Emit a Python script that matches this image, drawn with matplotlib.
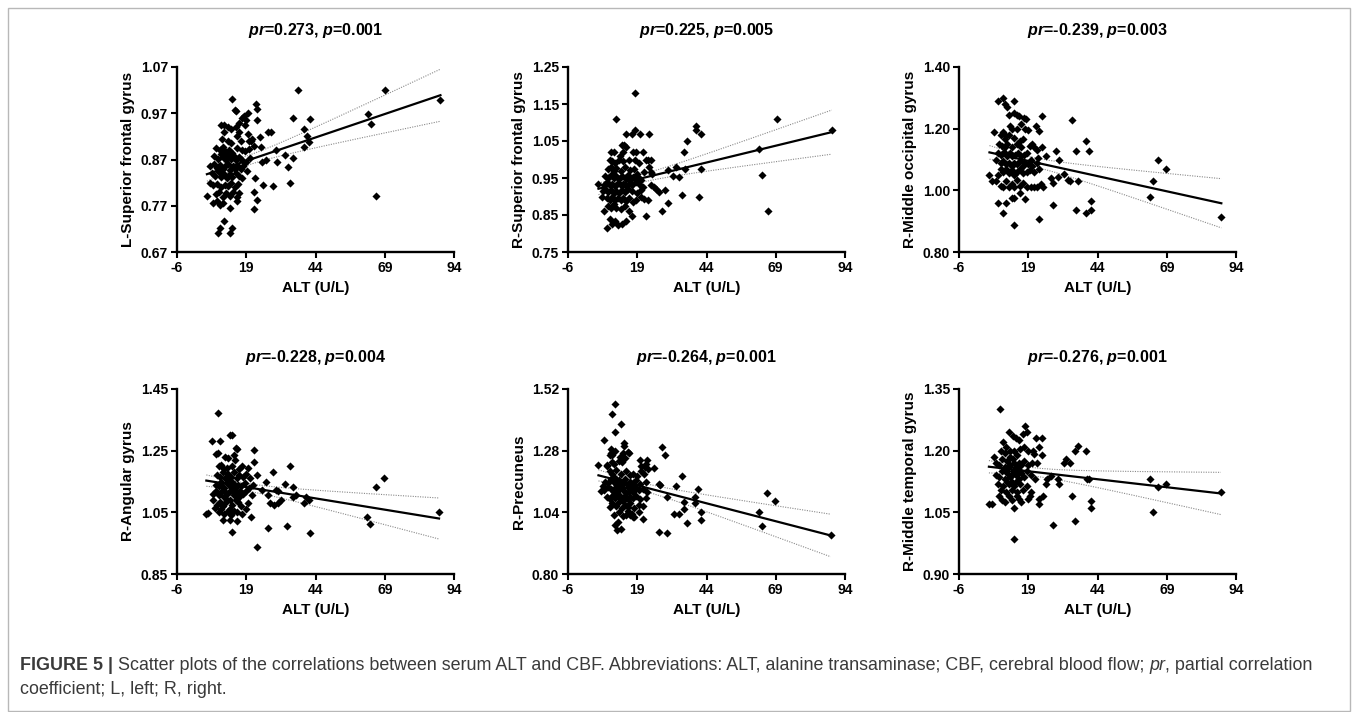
import numpy as np
import matplotlib
matplotlib.use('Agg')
import matplotlib.pyplot as plt
from matplotlib.patches import Rectangle

plt.rcParams['font.family'] = ['Liberation Sans', 'DejaVu Sans']
plt.rcParams['mathtext.fontset'] = 'custom'
plt.rcParams['mathtext.rm'] = 'Liberation Sans:bold'
plt.rcParams['mathtext.bfit'] = 'Liberation Sans:italic:bold'
plt.rcParams['mathtext.it'] = 'Liberation Sans:italic'

# ---------------- data (ALT, CBF) ----------------
lsfg_points = [
    (22.6,0.989),(22.9,0.980),(22.9,0.956),(24.1,0.919),(24.2,0.897),(21.9,0.900),(20.8,0.910),
    (22.2,0.831),(21.9,0.800),(22.9,0.783),(21.7,0.762),(24.6,0.864),(26.3,0.870),(25.0,0.814),
    (27.0,0.930),(28.0,0.930),(28.7,0.813),(29.9,0.890),(30.1,0.865),(33.0,0.880),(34.0,0.853),
    (34.9,0.819),(35.9,0.874),(35.9,0.960),(37.6,1.020),(40.0,0.937),(41.0,0.921),(41.7,0.908),
    (41.9,0.958),(40.0,0.896),(63.1,0.969),(64.0,0.947),(66.0,0.792),(69.1,1.020),(89.1,0.999),
    (14.0,1.000),(14.8,0.978),(15.3,0.975),(19.6,0.970),(18.3,0.965),(17.5,0.960),
    (19.0,0.955),(16.4,0.950),(18.5,0.945),
    (10.0,0.944),(10.8,0.945),(12.5,0.940),(13.6,0.935),(15.3,0.940),(11.0,0.930),(16.3,0.930),(19.5,0.925),
    (10.2,0.915),(12.5,0.910),(13.5,0.905),(15.5,0.920),(17.0,0.910),(19.9,0.910),(20.9,0.915),
    (8.0,0.895),(9.5,0.890),(10.5,0.898),(11.5,0.888),(12.7,0.890),(14.0,0.885),(15.8,0.895),
    (17.3,0.890),(18.5,0.888),(20.0,0.893),
    (7.5,0.878),(8.8,0.872),(9.8,0.882),(10.6,0.875),(11.8,0.870),(12.5,0.880),(13.4,0.872),
    (14.5,0.878),(15.3,0.868),(16.3,0.875),(17.5,0.870),(18.8,0.865),(20.3,0.873),
    (6.0,0.855),(7.2,0.860),(8.5,0.852),(9.5,0.858),(10.5,0.850),(11.5,0.856),(12.5,0.860),
    (13.3,0.848),(14.2,0.855),(15.0,0.850),(16.0,0.857),(17.0,0.850),(18.0,0.855),(19.3,0.845),
    (6.5,0.840),(7.8,0.835),(9.0,0.842),(10.0,0.832),(11.0,0.838),(12.0,0.830),(13.0,0.838),
    (14.0,0.832),(15.2,0.840),(16.5,0.835),(17.5,0.830),
    (6.0,0.820),(7.0,0.815),(8.5,0.818),(9.8,0.810),(11.2,0.815),(12.5,0.812),(13.6,0.820),
    (14.8,0.810),(16.0,0.818),
    (4.8,0.792),(8.0,0.795),(9.2,0.800),(10.5,0.790),(11.8,0.797),(13.0,0.792),(14.3,0.800),
    (15.7,0.790),(16.5,0.797),
    (7.0,0.775),(8.5,0.780),(9.5,0.772),(10.5,0.775),(13.0,0.765),(15.5,0.780),
    (10.8,0.738),(9.6,0.722),(8.9,0.712),(13.0,0.712),(14.0,0.722),
]

rsfg_points = [
    (18.1,1.180),(11.2,1.110),(69.3,1.110),(89.2,1.079),(63.0,1.029),(64.1,0.959),(66.1,0.860),
    (40.1,1.090),(40.1,1.080),(42.1,1.070),(37.1,1.050),(36.0,1.019),(42.1,0.973),(41.2,0.900),
    (35.2,0.905),(36.3,0.973),(33.0,0.980),(34.0,0.953),(32.0,0.955),(30.0,0.972),(28.9,0.918),
    (30.1,0.882),(28.0,0.862),(27.0,0.912),(23.9,0.932),(25.0,0.925),(25.8,0.920),(23.1,1.070),
    (20.0,1.070),(23.0,1.000),(24.0,1.000),(23.4,0.980),(24.0,0.965),(24.2,0.960),(22.0,0.847),
    (23.0,0.890),
    (18.3,1.080),(17.2,1.070),(15.0,1.070),
    (13.5,1.040),(14.3,1.040),(15.0,1.035),
    (9.5,1.020),(10.5,1.020),(14.0,1.020),(17.5,1.020),(18.5,1.020),(21.2,1.020),(12.8,1.010),
    (9.2,1.000),(10.0,0.995),(10.8,0.990),(12.5,1.000),(13.8,0.995),(16.0,1.000),(18.2,0.998),
    (19.5,0.990),(22.0,1.000),
    (8.5,0.975),(9.5,0.980),(10.5,0.970),(11.5,0.978),(13.0,0.970),(14.5,0.980),(16.5,0.972),
    (18.0,0.975),(19.0,0.960),(21.5,0.965),
    (7.5,0.955),(8.5,0.950),(9.5,0.958),(10.5,0.950),(11.5,0.955),(12.5,0.948),(13.5,0.955),
    (14.5,0.950),(15.5,0.958),(16.5,0.945),(17.5,0.952),(19.5,0.950),(20.5,0.945),
    (5.0,0.935),(7.0,0.930),(8.0,0.938),(9.0,0.930),(10.0,0.935),(11.0,0.928),(12.0,0.936),
    (13.0,0.930),(14.0,0.935),(15.0,0.928),(16.0,0.935),(17.0,0.930),(18.5,0.938),(20.0,0.930),
    (21.0,0.925),
    (6.5,0.915),(7.5,0.920),(8.5,0.912),(9.5,0.918),(10.5,0.910),(11.5,0.916),(12.5,0.910),
    (13.5,0.918),(14.5,0.912),(15.5,0.920),(17.0,0.915),(19.0,0.910),(20.5,0.918),
    (6.2,0.900),(8.0,0.895),(9.0,0.890),(10.0,0.898),(11.0,0.890),(12.0,0.896),(13.0,0.890),
    (14.0,0.895),(15.0,0.888),(16.0,0.895),(17.5,0.885),(18.5,0.890),(20.5,0.900),(21.5,0.892),
    (7.1,0.862),(8.5,0.875),(9.5,0.868),(10.5,0.880),(11.5,0.870),(13.0,0.865),(14.5,0.875),
    (16.0,0.860),
    (8.0,0.815),(9.0,0.840),(10.0,0.825),(11.0,0.835),(12.0,0.822),(13.5,0.825),(15.0,0.835),
    (17.2,0.847),
]

rmog_points = [
    (9.8,1.300),(7.9,1.290),(14.0,1.290),(10.7,1.280),(11.2,1.270),(8.0,0.960),(10.0,0.926),
    (11.0,0.960),(14.0,0.888),(17.9,0.972),(22.9,0.908),(28.0,0.954),(36.1,0.935),(40.0,0.926),
    (41.8,0.937),(41.8,0.966),(34.9,1.229),(36.1,1.128),(40.0,1.160),(40.9,1.128),(36.9,1.030),
    (33.5,1.035),(34.0,1.030),(32.0,1.053),(30.1,1.100),(28.9,1.128),(29.9,1.042),(27.2,1.040),
    (27.8,1.025),(25.3,1.110),(24.1,1.240),(24.1,1.140),(22.9,1.193),(21.9,1.210),(63.0,0.978),
    (63.9,1.029),(65.8,1.100),(68.9,1.069),(88.7,0.913),(5.0,1.050),(6.0,1.030),
    (14.0,1.250),(14.8,1.245),(15.5,1.240),(17.5,1.235),(18.2,1.230),(12.0,1.245),
    (12.5,1.210),(13.3,1.200),(15.0,1.200),(16.5,1.215),(18.0,1.200),(18.8,1.195),
    (6.8,1.190),(9.0,1.180),(10.0,1.190),(11.0,1.175),(12.0,1.180),(14.0,1.170),(16.0,1.160),
    (17.0,1.165),(10.5,1.165),
    (8.5,1.150),(9.5,1.145),(10.5,1.140),(11.5,1.150),(13.0,1.140),(15.0,1.150),(16.5,1.140),
    (19.5,1.145),(20.5,1.150),(21.0,1.140),(22.0,1.130),
    (8.0,1.120),(9.0,1.115),(10.2,1.125),(11.3,1.110),(12.3,1.120),(13.3,1.110),(14.3,1.115),
    (15.3,1.120),(16.3,1.110),(17.3,1.115),(18.5,1.120),(20.0,1.100),(22.5,1.105),
    (7.5,1.100),(9.0,1.090),(10.0,1.095),(11.0,1.085),(12.0,1.090),(13.0,1.080),(14.0,1.090),
    (15.0,1.085),(16.0,1.095),(17.0,1.080),(18.0,1.090),(19.0,1.085),(20.5,1.080),(22.0,1.090),
    (8.0,1.050),(9.0,1.070),(10.0,1.060),(11.0,1.070),(12.0,1.055),(13.0,1.065),(14.0,1.050),
    (15.0,1.060),(16.0,1.070),(17.0,1.055),(18.5,1.060),(19.5,1.065),(21.0,1.060),(23.0,1.070),
    (7.5,1.030),(9.0,1.015),(10.0,1.010),(11.0,1.030),(12.0,1.010),(13.0,1.020),(14.0,1.010),
    (15.0,1.035),(16.0,1.015),(17.0,1.025),(18.5,1.010),(20.0,1.010),(21.0,1.010),(22.0,1.010),
    (23.5,1.020),(24.5,1.010),
    (13.0,0.975),(14.0,0.975),(16.0,0.990),
]

rag_points = [
    (8.8,1.371),(6.8,1.282),(9.6,1.282),(13.0,1.300),(14.0,1.300),(8.8,1.243),(8.0,1.240),
    (15.2,1.260),(15.8,1.255),(21.8,1.252),(21.7,1.214),(22.9,1.171),(28.7,1.180),(34.7,1.200),
    (32.9,1.142),(35.9,1.133),(29.9,1.122),(30.5,1.118),(26.0,1.150),(24.8,1.124),(26.8,1.105),
    (29.0,1.074),(30.5,1.080),(31.6,1.090),(27.5,1.080),(36.0,1.100),(37.0,1.105),(39.7,1.080),
    (40.5,1.100),(41.6,1.090),(26.9,0.999),(33.8,1.005),(22.9,0.938),(14.0,0.985),(41.9,0.984),
    (62.6,1.034),(63.6,1.013),(65.7,1.133),(68.6,1.162),(88.6,1.052),(4.6,1.044),(5.2,1.049),
    (10.6,1.025),(13.3,1.025),(15.7,1.023),(20.8,1.034),
    (14.5,1.235),(15.0,1.220),(11.5,1.230),(12.5,1.225),
    (9.0,1.200),(10.0,1.205),(11.0,1.190),(12.0,1.195),(14.0,1.200),(16.5,1.190),(17.5,1.200),
    (19.5,1.195),
    (8.5,1.170),(9.5,1.165),(10.5,1.180),(11.5,1.160),(12.5,1.175),(13.5,1.165),(14.5,1.180),
    (15.5,1.160),(16.5,1.170),(18.0,1.165),(19.0,1.175),(20.5,1.160),
    (8.0,1.140),(9.0,1.135),(10.0,1.150),(11.0,1.130),(12.0,1.145),(13.0,1.135),(14.0,1.150),
    (15.0,1.130),(16.0,1.140),(17.0,1.135),(18.5,1.145),(20.0,1.130),(21.5,1.140),
    (7.0,1.110),(8.0,1.120),(9.0,1.105),(10.0,1.115),(11.0,1.100),(12.0,1.110),(13.0,1.120),
    (14.5,1.105),(15.5,1.115),(16.5,1.100),(18.0,1.110),(19.0,1.120),(21.0,1.105),
    (7.0,1.090),(8.5,1.075),(9.5,1.085),(10.5,1.070),(11.5,1.080),(13.0,1.090),(14.0,1.075),
    (16.0,1.085),(17.0,1.070),(19.5,1.080),
    (7.6,1.064),(9.0,1.050),(10.0,1.060),(11.0,1.045),(12.5,1.055),(13.5,1.040),(14.5,1.055),
    (15.5,1.050),(17.5,1.045),(19.0,1.060),
    (12.8,1.150),(13.8,1.120),(11.8,1.160),(10.8,1.120),(12.2,1.090),(13.2,1.060),(15.2,1.090),
    (9.8,1.140),(14.8,1.140),(16.8,1.120),
]

rprec_points = [
    (11.0,1.462),(9.8,1.423),(13.1,1.384),(11.0,1.353),(7.1,1.321),(9.5,1.288),(9.5,1.272),
    (9.8,1.263),(14.3,1.310),(14.3,1.300),(16.0,1.272),(28.0,1.294),(28.9,1.262),(22.5,1.244),
    (21.9,1.218),(25.1,1.212),(35.1,1.183),(33.0,1.142),(26.7,1.150),(27.3,1.145),(29.9,1.101),
    (35.7,1.082),(40.9,1.130),(40.0,1.101),(40.0,1.075),(35.7,1.052),(42.0,1.043),(32.1,1.032),
    (33.9,1.032),(36.9,1.000),(42.0,1.010),(27.0,0.963),(29.9,0.960),(17.4,1.023),(21.0,1.013),
    (11.9,1.004),(13.1,0.976),(62.8,1.043),(63.9,0.987),(65.9,1.114),(68.9,1.083),(88.8,0.950),
    (5.0,1.223),(5.9,1.123),(6.8,1.142),
    (9.2,1.265),(11.0,1.278),(14.0,1.270),(15.8,1.275),(9.8,1.237),(12.8,1.257),(13.4,1.237),
    (7.9,1.222),(19.9,1.245),(20.5,1.220),(22.9,1.210),
    (8.0,1.225),(12.5,1.240),(14.5,1.250),(10.5,1.230),(22.0,1.230),(20.5,1.200),
    (9.0,1.200),(10.0,1.190),(11.5,1.205),(13.0,1.190),(15.0,1.200),(16.5,1.185),(17.5,1.190),
    (19.0,1.180),(21.5,1.190),
    (7.5,1.160),(8.5,1.155),(9.5,1.170),(10.5,1.160),(11.5,1.150),(12.5,1.165),(13.5,1.155),
    (14.5,1.170),(15.5,1.150),(16.5,1.160),(17.5,1.155),(18.5,1.165),(20.0,1.150),(22.0,1.160),
    (7.0,1.125),(8.5,1.140),(9.5,1.130),(10.5,1.120),(11.5,1.140),(12.5,1.125),(13.5,1.135),
    (14.5,1.120),(15.5,1.140),(16.5,1.130),(17.5,1.120),(18.5,1.135),(19.5,1.125),(21.0,1.130),
    (22.5,1.120),
    (8.0,1.100),(9.0,1.090),(10.0,1.105),(11.0,1.095),(12.5,1.100),(13.5,1.090),(14.5,1.105),
    (15.5,1.090),(16.5,1.100),(17.5,1.095),(18.5,1.105),(20.0,1.090),(22.0,1.095),
    (9.0,1.060),(10.0,1.075),(11.5,1.065),(12.5,1.080),(13.5,1.055),(14.5,1.070),(15.5,1.060),
    (16.5,1.075),(18.0,1.055),(19.5,1.070),(21.0,1.065),
    (10.5,1.030),(12.5,1.040),(14.0,1.025),(15.5,1.045),(17.0,1.035),(19.5,1.040),
    (11.0,0.990),(11.8,0.970),(15.0,1.030),(16.5,1.030),(18.0,1.020),
    (12.0,1.110),(13.0,1.145),(14.0,1.150),(15.0,1.115),(11.0,1.175),(16.0,1.120),(17.0,1.145),
    (13.0,1.100),(14.0,1.085),
]

rmtg_points = [
    (8.8,1.301),(17.9,1.261),(14.0,0.984),(28.0,1.020),(35.9,1.030),(34.7,1.090),(41.7,1.078),
    (41.7,1.060),(63.9,1.050),(62.9,1.131),(65.8,1.111),(68.6,1.120),(88.5,1.100),(37.1,1.212),
    (35.9,1.200),(40.0,1.200),(40.3,1.131),(41.0,1.131),(32.8,1.180),(32.0,1.170),(33.9,1.170),
    (29.9,1.130),(30.0,1.120),(27.1,1.139),(25.3,1.120),(25.9,1.130),(24.4,1.090),(23.0,1.082),
    (23.0,1.070),(23.9,1.230),(23.9,1.190),(21.8,1.230),(22.8,1.210),(22.0,1.170),(20.6,1.200),
    (21.0,1.193),(18.9,1.082),(15.8,1.082),(14.0,1.060),(4.8,1.070),(6.0,1.070),(6.8,1.184),
    (12.0,1.245),(13.5,1.235),(14.5,1.230),(17.0,1.240),(18.5,1.245),(15.5,1.225),(10.0,1.220),
    (9.0,1.200),(10.5,1.195),(11.0,1.210),(12.5,1.200),(14.0,1.200),(15.0,1.190),(16.0,1.205),
    (17.5,1.210),(19.0,1.200),
    (7.5,1.170),(8.5,1.165),(9.5,1.180),(10.5,1.160),(11.5,1.175),(12.5,1.165),(13.5,1.180),
    (14.5,1.160),(15.5,1.170),(16.5,1.165),(17.5,1.175),(19.0,1.165),(20.5,1.170),
    (7.5,1.140),(8.5,1.135),(9.5,1.150),(10.5,1.130),(11.5,1.145),(12.5,1.135),(13.5,1.150),
    (14.5,1.140),(15.5,1.130),(16.5,1.145),(17.5,1.135),(18.5,1.150),(20.0,1.140),(21.5,1.130),
    (8.0,1.120),(9.0,1.105),(10.0,1.115),(11.0,1.100),(12.0,1.120),(13.0,1.105),(14.0,1.115),
    (15.0,1.100),(16.0,1.120),(17.0,1.105),(18.5,1.115),(20.0,1.100),
    (8.5,1.090),(9.5,1.080),(10.5,1.075),(12.0,1.090),(13.0,1.080),(15.0,1.090),(16.5,1.075),
    (19.5,1.090),
    (11.0,1.150),(12.0,1.160),(13.0,1.140),(14.0,1.170),(15.0,1.155),(16.0,1.150),(13.0,1.125),
    (11.5,1.125),(14.5,1.125),(12.5,1.185),
]

panel_points = [lsfg_points, rsfg_points, rmog_points, rag_points, rprec_points, rmtg_points]

# fitted regression lines as printed in the figure (intercept, slope)
fit_intercepts = [0.8285, 0.9119, 1.1329, 1.1597, 1.1980, 1.1647]
fit_slopes = [0.002026, 0.001817, -0.001971, -0.001464, -0.002792, -0.000777]

y_labels = ['L-Superior frontal gyrus', 'R-Superior frontal gyrus', 'R-Middle occipital gyrus',
            'R-Angular gyrus', 'R-Precuneus', 'R-Middle temporal gyrus']
pr_values = ['0.273', '0.225', '-0.239', '-0.228', '-0.264', '-0.276']
p_values = ['0.001', '0.005', '0.003', '0.004', '0.001', '0.001']
y_ticks = [
    [0.67, 0.77, 0.87, 0.97, 1.07],
    [0.75, 0.85, 0.95, 1.05, 1.15, 1.25],
    [0.80, 1.00, 1.20, 1.40],
    [0.85, 1.05, 1.25, 1.45],
    [0.80, 1.04, 1.28, 1.52],
    [0.90, 1.05, 1.20, 1.35],
]
x_ticks = [-6, 19, 44, 69, 94]
x_label = 'ALT (U/L)'
t_crit = 1.977  # two-sided 95% t quantile, df ~ 130

caption_bold = 'FIGURE 5 | '
caption_line1 = ('Scatter plots of the correlations between serum ALT and CBF. Abbreviations: ALT, '
                 'alanine transaminase; CBF, cerebral blood flow; ')
caption_italic = 'pr'
caption_line1_end = ', partial correlation'
caption_line2 = 'coefficient; L, left; R, right.'

# ---------------- layout ----------------
W, H = 1358, 712
fig = plt.figure(figsize=(W / 100, H / 100), dpi=100)

col_left = [177, 568, 959]
row_top = [67, 389]
ax_w, ax_h = 277, 185
title_y = [31, 358]

fig.patches.append(Rectangle((8 / W, 1 / H), (1350 - 8) / W, (704 - 1) / H,
                             transform=fig.transFigure, fill=False,
                             edgecolor='#b8b8b8', linewidth=1.0))

for i, pts in enumerate(panel_points):
    r, c = divmod(i, 3)
    left, top = col_left[c], row_top[r]
    ax = fig.add_axes([left / W, 1 - (top + ax_h) / H, ax_w / W, ax_h / H])
    arr = np.array(pts)
    x, y = arr[:, 0], arr[:, 1]

    # regression line with 95% confidence band
    slope, intercept = fit_slopes[i], fit_intercepts[i]
    n = len(x)
    resid = y - (slope * x + intercept)
    s = np.sqrt(np.sum(resid ** 2) / (n - 2))
    xs = np.linspace(x.min(), x.max(), 200)
    ys = slope * xs + intercept
    se = s * np.sqrt(1 / n + (xs - x.mean()) ** 2 / np.sum((x - x.mean()) ** 2))
    ax.plot(xs, ys + t_crit * se, color='#8a8a8a', lw=0.8, ls=(0, (1, 1.2)), zorder=2)
    ax.plot(xs, ys - t_crit * se, color='#8a8a8a', lw=0.8, ls=(0, (1, 1.2)), zorder=2)

    ax.scatter(x, y, marker='D', s=17, color='black', linewidths=0, zorder=3)
    ax.plot(xs, ys, color='black', lw=1.6, zorder=4)

    yt = y_ticks[i]
    ax.set_xlim(x_ticks[0], x_ticks[-1])
    ax.set_ylim(yt[0], yt[-1])
    ax.set_xticks(x_ticks)
    ax.set_xticklabels([str(v) for v in x_ticks])
    ax.set_yticks(yt)
    ax.set_yticklabels(['%.2f' % v for v in yt])
    for sp in ['top', 'right']:
        ax.spines[sp].set_visible(False)
    for sp in ['left', 'bottom']:
        ax.spines[sp].set_linewidth(1.7)
    ax.tick_params(direction='out', length=4.5, width=1.5, labelsize=10, pad=2)
    for lab in ax.get_xticklabels() + ax.get_yticklabels():
        lab.set_fontweight('bold')

    ax.set_xlabel(x_label, fontsize=11, fontweight='bold')
    ax.xaxis.label.set_va('center')
    ax.xaxis.set_label_coords(0.5, -36 / ax_h)
    ax.set_ylabel(y_labels[i], fontsize=11, fontweight='bold')
    ax.yaxis.label.set_va('center')
    ax.yaxis.set_label_coords(-49 / ax_w, 0.5)

    title = r'$\mathbfit{pr}$=' + pr_values[i] + r', $\mathbfit{p}$=' + p_values[i]
    fig.text((left + ax_w / 2) / W, 1 - title_y[r] / H, title, ha='center', va='center',
             fontsize=11.5, fontweight='bold')

# ---------------- caption ----------------
fig.canvas.draw()
renderer = fig.canvas.get_renderer()
cap_size = 12.9
cap_color = '#3a3a3a'
y1 = 1 - 665 / H
y2 = 1 - 690 / H
xpos = 20 / W
pieces = [(caption_bold, 'bold', 'normal'), (caption_line1, 'normal', 'normal'),
          (caption_italic, 'normal', 'italic'), (caption_line1_end, 'normal', 'normal')]
for txt, wt, st in pieces:
    t = fig.text(xpos, y1, txt, fontsize=cap_size, fontweight=wt, fontstyle=st,
                 color=cap_color, ha='left', va='center')
    bb = t.get_window_extent(renderer=renderer)
    xpos = bb.x1 / W
fig.text(20 / W, y2, caption_line2, fontsize=cap_size, color=cap_color, ha='left', va='center')

fig.savefig('out.png', dpi=100)
